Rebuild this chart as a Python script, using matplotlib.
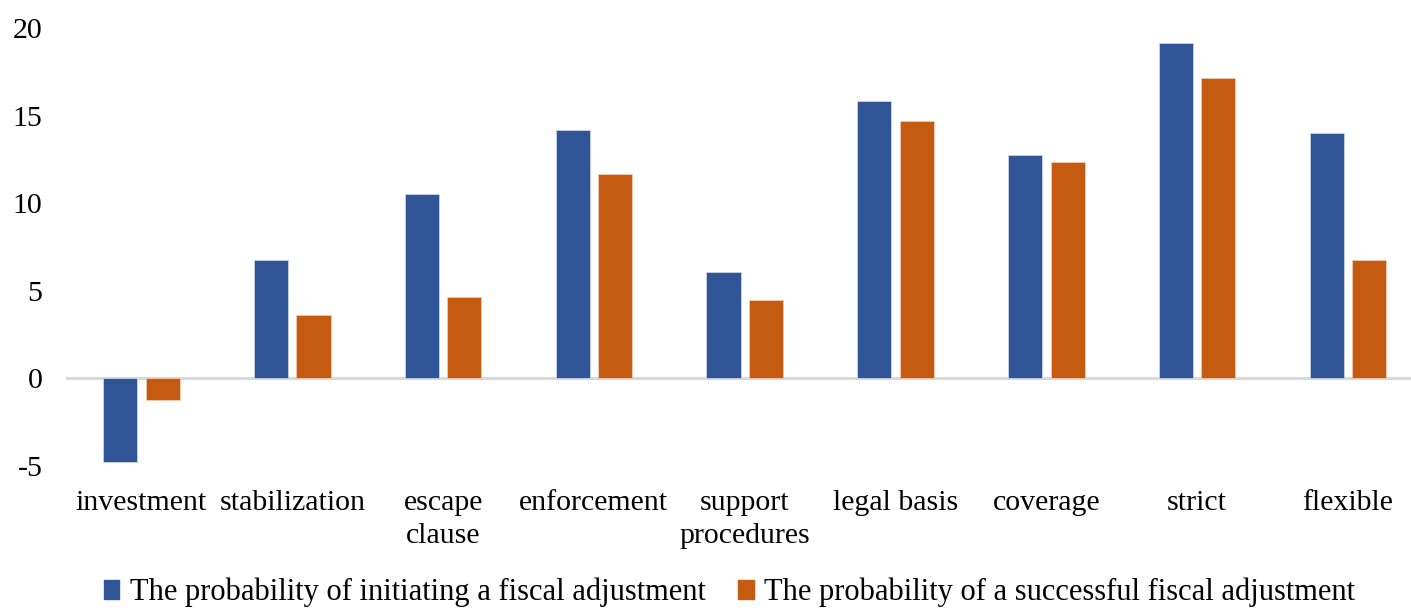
import numpy as np
import matplotlib
matplotlib.use('Agg')
import matplotlib.pyplot as plt
import matplotlib.patches as mpatches

plt.rcParams['font.family'] = ['Liberation Serif', 'DejaVu Serif']

categories = ["investment", "stabilization", "escape\nclause", "enforcement",
              "support\nprocedures", "legal basis", "coverage", "strict", "flexible"]
initiating = [-4.78, 6.74, 10.5, 14.17, 6.06, 15.83, 12.74, 19.14, 14.0]
successful = [-1.26, 3.6, 4.63, 11.66, 4.46, 14.69, 12.34, 17.14, 6.74]
series_names = ["The probability of initiating a fiscal adjustment",
                "The probability of a successful fiscal adjustment"]

blue = "#2F5597"
orange = "#C55A11"

fig = plt.figure(figsize=(14.11, 6.08), dpi=100)
ax = fig.add_axes([0.0468, 0.2336, 0.962, 0.7204])

ind = np.arange(len(categories))
bar_width = 0.226
off = 0.141

ax.bar(ind - off, initiating, width=bar_width, color=blue,
       edgecolor="#c9d3e6", linewidth=0.6, zorder=2)
ax.bar(ind + off, successful, width=bar_width, color=orange,
       edgecolor="#efcbb3", linewidth=0.6, zorder=2)

ax.axhline(0, color="#d9d9d9", linewidth=2.2, zorder=1)

ax.set_xlim(-0.5, len(categories) - 0.5)
ax.set_ylim(-5, 20)
ax.set_yticks([-5, 0, 5, 10, 15, 20])
ax.set_yticklabels(["-5", "0", "5", "10", "15", "20"])
ax.set_xticks(ind)
ax.set_xticklabels(categories, linespacing=1.35)

for s in ax.spines.values():
    s.set_visible(False)
ax.tick_params(axis='both', length=0, labelsize=21.5)
ax.tick_params(axis='x', pad=17.5)
ax.tick_params(axis='y', pad=17)

handles = [mpatches.Patch(color=blue, label=series_names[0]),
           mpatches.Patch(color=orange, label=series_names[1])]
fig.legend(handles=handles, loc='lower center', bbox_to_anchor=(0.517, -0.044),
           ncol=2, frameon=False, fontsize=22, handlelength=0.5, handleheight=0.55,
           handletextpad=0.35, columnspacing=1.08)

fig.savefig("out.png", dpi=100)
